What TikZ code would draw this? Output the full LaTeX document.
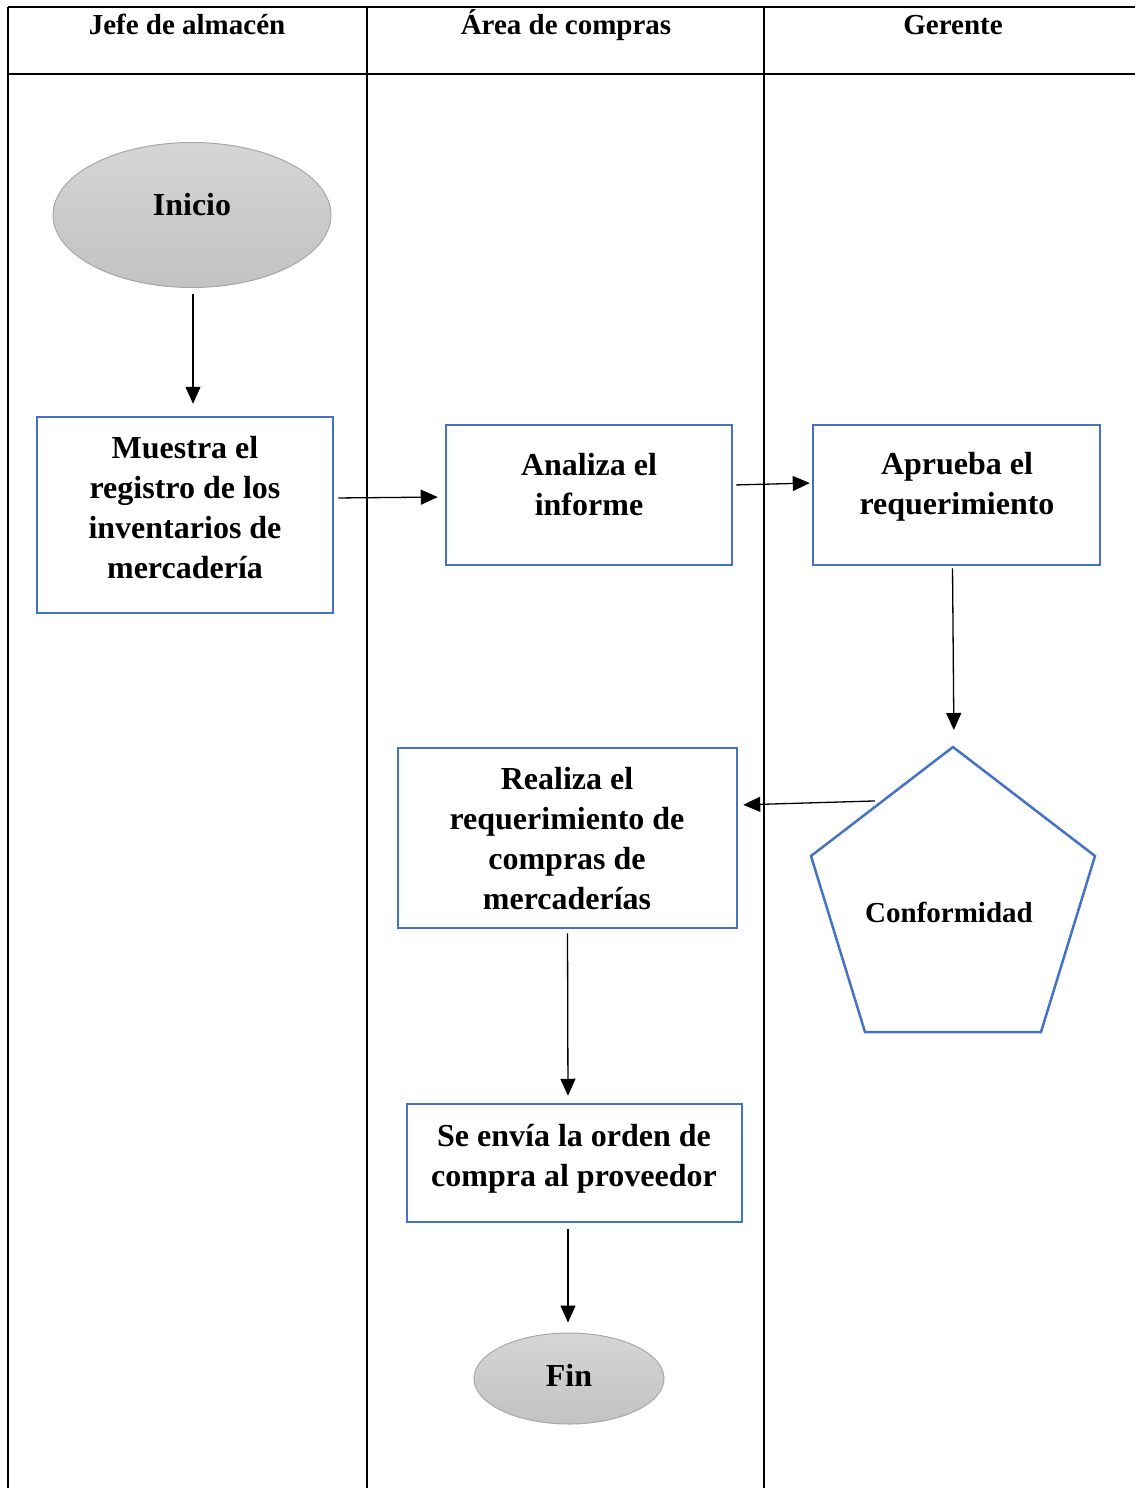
\documentclass[tikz,border=0pt]{standalone}
\usepackage{fontspec}
\setmainfont{Liberation Serif}
\usetikzlibrary{arrows.meta,calc,shapes.geometric}
\definecolor{boxblue}{HTML}{4472C4}
\definecolor{termtop}{HTML}{D5D5D5}
\definecolor{termbot}{HTML}{C2C2C2}
\definecolor{termline}{HTML}{A8A8A8}
\begin{document}
\begin{tikzpicture}[x=1pt,y=-1pt,
  lane/.style={line width=2.2pt,black},
  procbox/.style={draw=boxblue,line width=2.5pt,inner sep=0pt,rectangle},
  term/.style={ellipse,draw=termline,line width=1pt,top color=termtop,bottom color=termbot,inner sep=0pt},
  txt/.style={font=\fontsize{32}{40}\selectfont\bfseries,align=center,inner sep=0pt},
  ctxt/.style={font=\fontsize{29}{34}\selectfont\bfseries,align=center,inner sep=0pt},
  head/.style={font=\fontsize{29}{34}\selectfont\bfseries,inner sep=0pt,anchor=base},
  arr/.style={-{Triangle[length=17pt,width=15pt]},line width=1.3pt,black}]
\useasboundingbox (0,0) rectangle (1135,1488);
% lanes
\draw[lane] (8,7) -- (1135,7);
\draw[lane] (8,74) -- (1135,74);
\draw[lane] (8,7) -- (8,1488);
\draw[lane] (367,7) -- (367,1488);
\draw[lane] (764,7) -- (764,1488);
\node[head] (h1) at (187,35) {Jefe de almacén};
\node[head] (h2) at (566,35) {Área de compras};
\node[head] (h3) at (953,35) {Gerente};
% shapes
\node[term,minimum width=278pt,minimum height=145pt] (inicio) at (192,215) {};
\node[txt] (tinicio) at (192,205) {Inicio};
\node[procbox,minimum width=296pt,minimum height=196pt] (muestra) at (185,515) {};
\node[txt] (tmuestra) at (185,508) {Muestra el\\registro de los\\inventarios de\\mercadería};
\node[procbox,minimum width=286pt,minimum height=140pt] (analiza) at (589,495) {};
\node[txt] (tanaliza) at (589,485) {Analiza el\\informe};
\node[procbox,minimum width=287pt,minimum height=140pt] (aprueba) at (956.5,495) {};
\node[txt] (taprueba) at (957,487) {Aprueba el\\requerimiento};
\coordinate (ptop) at (953,747);
\coordinate (pleft) at (811,856);
\coordinate (pright) at (1095,856);
\coordinate (pbl) at (865,1032);
\coordinate (pbr) at (1041,1032);
\draw[boxblue,line width=2.5pt,line join=miter] (ptop) -- (pright) -- (pbr) -- (pbl) -- (pleft) -- cycle;
\node[ctxt] (conf) at (949,912) {Conformidad};
\node[procbox,minimum width=339pt,minimum height=180pt] (realiza) at (567.5,838) {};
\node[txt] (trealiza) at (567,839) {Realiza el\\requerimiento de\\compras de\\mercaderías};
\node[procbox,minimum width=335pt,minimum height=118pt] (envia) at (574.5,1163) {};
\node[txt] (tenvia) at (574,1159) {Se envía la orden de\\compra al proveedor};
\node[term,minimum width=190pt,minimum height=91pt] (fin) at (569,1378.5) {};
\node[txt] (tfin) at (569,1375) {Fin};
% connectors
\coordinate (c1) at ($(inicio.south)+(1,0)$);
\draw[arr,shorten <=6pt,shorten >=12pt] (c1) -- (c1 |- muestra.north);
\draw[arr,shorten <=4pt,shorten >=7pt] ($(muestra.east)+(0,-17)$) -- ($(analiza.west)+(0,2)$);
\draw[arr,shorten <=3pt,shorten >=2pt] ($(analiza.east)+(0,-10)$) -- ($(aprueba.west)+(0,-12)$);
\draw[arr,shorten <=2pt,shorten >=17pt] ($(aprueba.south)+(-4,0)$) -- ($(ptop)+(1,0)$);
\draw[arr,shorten >=5pt] ($($(ptop)!0.55!(pleft)$)+(0,-6)$) -- ($(realiza.east)+(0,-33)$);
\draw[arr,shorten <=4pt,shorten >=7pt] (realiza.south) -- ($(envia.north)+(-6.5,0)$);
\coordinate (c7) at ($(envia.south)+(-6.5,0)$);
\draw[arr,shorten <=6pt,shorten >=10pt] (c7) -- (c7 |- fin.north);
\end{tikzpicture}
\end{document}
